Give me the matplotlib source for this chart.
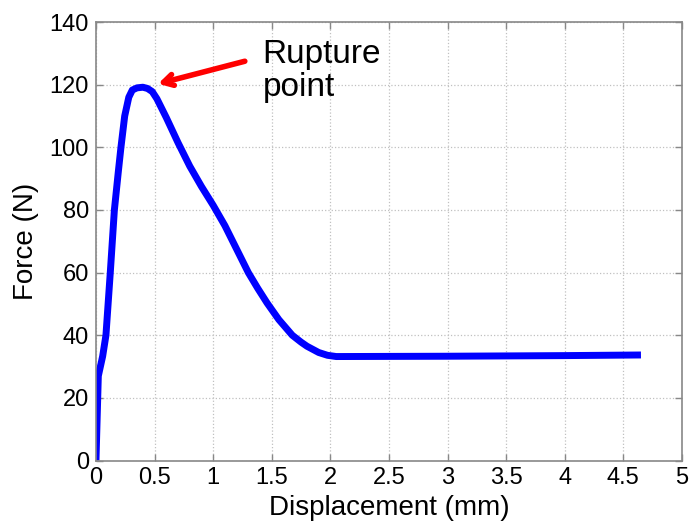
import matplotlib
matplotlib.use("Agg")
import matplotlib.pyplot as plt

deplacement_mm = [0.0, 0.02, 0.057, 0.085, 0.122, 0.157, 0.19, 0.213, 0.245, 0.28,
                  0.31, 0.35, 0.40, 0.44, 0.48, 0.52, 0.60, 0.70, 0.80, 0.90,
                  1.00, 1.10, 1.20, 1.30, 1.38, 1.46, 1.56, 1.675, 1.75, 1.80,
                  1.90, 1.975, 2.05, 3.0, 4.0, 4.65]
force_n = [0.0, 27.0, 33.3, 40.0, 60.0, 80.0, 92.0, 100.0, 110.0, 116.0,
           118.3, 119.0, 119.2, 118.8, 117.8, 115.5, 109.5, 101.5, 94.0, 87.5,
           81.5, 75.0, 67.5, 60.0, 55.0, 50.3, 45.0, 40.0, 37.8, 36.5,
           34.5, 33.6, 33.2, 33.3, 33.5, 33.7]

x_ticks = [0, 0.5, 1, 1.5, 2, 2.5, 3, 3.5, 4, 4.5, 5]
x_tick_labels = ["0", "0.5", "1", "1.5", "2", "2.5", "3", "3.5", "4", "4.5", "5"]
y_ticks = [0, 20, 40, 60, 80, 100, 120, 140]

plt.rcParams['font.family'] = ['Liberation Sans', 'DejaVu Sans']

fig = plt.figure(figsize=(6.89, 5.26), dpi=100)
ax = fig.add_axes([0.1393, 0.1245, 0.8505, 0.8335])

ax.plot(deplacement_mm, force_n, color="#0000ff", linewidth=5,
        solid_capstyle="butt", solid_joinstyle="round")

ax.set_xlim(0, 5)
ax.set_ylim(0, 140)
ax.set_xticks(x_ticks)
ax.set_xticklabels(x_tick_labels)
ax.set_yticks(y_ticks)

# grille pointillee
ax.grid(True, linestyle=":", color="#c0c0c0", linewidth=0.9)

for s in ax.spines.values():
    s.set_color("#888888")
    s.set_linewidth(1.2)
ax.tick_params(direction="in", length=5, width=1, color="#888888",
               top=True, right=True, labelsize=17, pad=5, labelcolor="black")

ax.set_xlabel("Displacement (mm)", fontsize=20, labelpad=4)
ax.set_ylabel("Force (N)", fontsize=20, labelpad=8)

# fleche + texte
ax.annotate("", xy=(0.53, 120.3), xytext=(1.27, 127.5),
            arrowprops=dict(arrowstyle="->,head_length=0.7,head_width=0.4",
                            color="red", lw=4, shrinkA=0, shrinkB=0))
ax.text(1.42, 134.5, "Rupture\npoint", fontsize=24, va="top", ha="left",
        linespacing=1.05)

plt.savefig("out.png", dpi=100)
